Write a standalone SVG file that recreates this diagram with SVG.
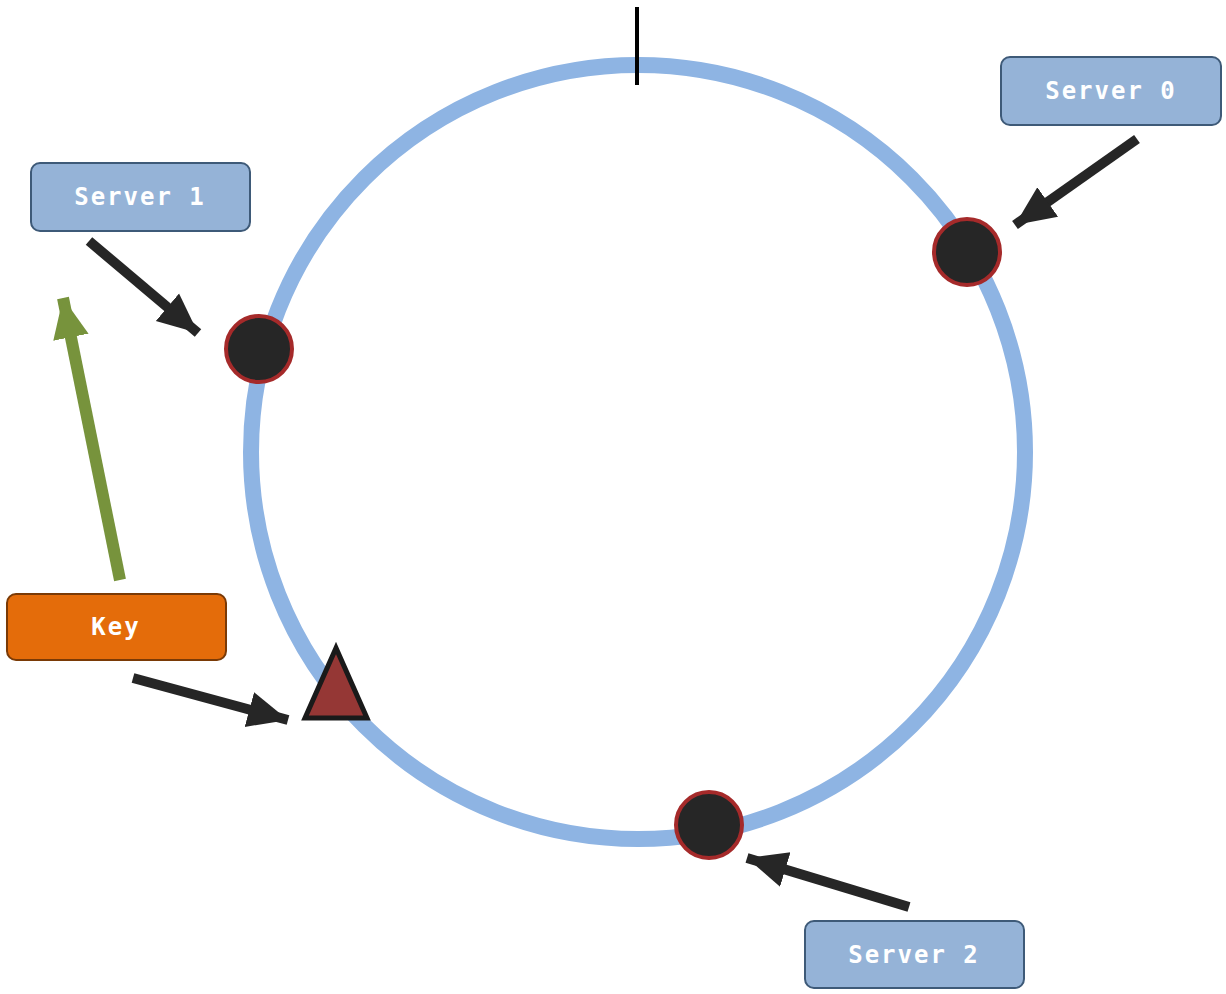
<svg xmlns="http://www.w3.org/2000/svg" width="1226" height="994" viewBox="0 0 1226 994">
<style>
.box{fill:#95b3d7;stroke:#3e5a78;stroke-width:2}
.lbl{fill:#fff;font-family:"DejaVu Sans Mono",monospace;font-weight:bold;font-size:24px;text-anchor:middle;letter-spacing:2px}
.srv{fill:#262626;stroke:#a52a2a;stroke-width:4}
.arr{stroke:#262626;stroke-width:10;fill:none}
</style>
<defs>
<marker id="ah" markerUnits="userSpaceOnUse" markerWidth="44" markerHeight="40" refX="40" refY="20" orient="auto"><path d="M0,2 L40,20 L0,38 Z" fill="#262626"/></marker>
<marker id="ahg" markerUnits="userSpaceOnUse" markerWidth="44" markerHeight="40" refX="40" refY="20" orient="auto"><path d="M0,2 L40,20 L0,38 Z" fill="#77933c"/></marker>
</defs>
<rect width="1226" height="994" fill="#fff"/>
<g id="ring"><circle cx="638" cy="452" r="387" fill="none" stroke="#8eb4e3" stroke-width="16"/><line x1="637" y1="7" x2="637" y2="85" stroke="#000" stroke-width="4"/></g>
<g id="connectors">
<line class="arr" x1="1137" y1="139" x2="1015" y2="225" marker-end="url(#ah)"/>
<line class="arr" x1="89" y1="241" x2="198" y2="333" marker-end="url(#ah)"/>
<line class="arr" x1="133" y1="678" x2="288" y2="720" marker-end="url(#ah)"/>
<line class="arr" x1="909" y1="907" x2="747" y2="858" marker-end="url(#ah)"/>
<line x1="120" y1="580" x2="63" y2="298" stroke="#77933c" stroke-width="12" marker-end="url(#ahg)"/>
</g>
<g id="node-s0"><circle class="srv" cx="967" cy="252" r="33"/></g>
<g id="node-s1"><circle class="srv" cx="259" cy="349" r="33"/></g>
<g id="node-s2"><circle class="srv" cx="709" cy="825" r="33"/></g>
<g id="node-key"><polygon points="336,648 305,718 367,718" fill="#953735" stroke="#1a1a1a" stroke-width="5" stroke-linejoin="miter"/></g>
<g id="label-s0"><rect class="box" x="1001" y="57" width="220" height="68" rx="9"/><text class="lbl" x="1111" y="99">Server 0</text></g>
<g id="label-s1"><rect class="box" x="31" y="163" width="219" height="68" rx="9"/><text class="lbl" x="140" y="205">Server 1</text></g>
<g id="label-s2"><rect class="box" x="805" y="921" width="219" height="67" rx="9"/><text class="lbl" x="914" y="963">Server 2</text></g>
<g id="label-key"><rect x="7" y="594" width="219" height="66" rx="9" fill="#e46c0a" stroke="#7a3a06" stroke-width="2"/><text class="lbl" x="116" y="635">Key</text></g>
</svg>
